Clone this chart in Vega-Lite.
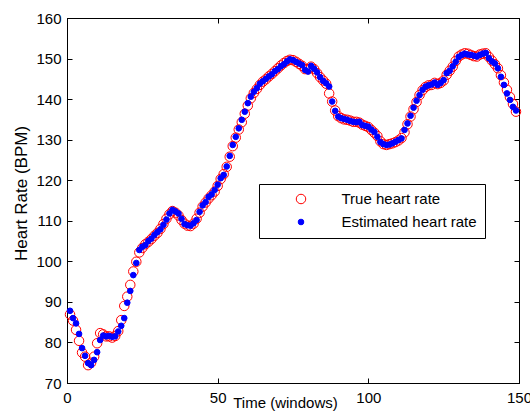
{
"$schema": "https://vega.github.io/schema/vega-lite/v6.json",
"width": 452, "height": 365,
"autosize": {"type": "none"},
"padding": {"left": 67, "top": 18, "right": 11, "bottom": 28},
"background": "white",
"config": {"view": {"stroke": "black", "strokeWidth": 1}, "font": "Liberation Sans",
  "axis": {"grid": false, "domainColor": "black", "tickColor": "black", "labelColor": "black", "titleColor": "black", "labelFont": "Liberation Sans", "titleFont": "Liberation Sans", "labelFontSize": 15, "titleFontWeight": "normal", "tickSize": -5, "labelFlush": false, "labelOverlap": false}},
"data": {"values": [
{"t":1,"T":86.9,"E":87.8},{"t":2,"T":85.4,"E":86.0},{"t":3,"T":83.1,"E":84.7},{"t":4,"T":80.4,"E":82.1},{"t":5,"T":77.5,"E":78.6},
{"t":6,"T":76.5,"E":76.7},{"t":7,"T":74.4,"E":74.9},{"t":8,"T":75.0,"E":74.4},{"t":9,"T":76.5,"E":75.7},{"t":10,"T":79.8,"E":77.6},
{"t":11,"T":82.3,"E":80.6},{"t":12,"T":82.0,"E":81.7},{"t":13,"T":81.5,"E":81.5},{"t":14,"T":81.5,"E":81.6},{"t":15,"T":81.2,"E":81.4},
{"t":16,"T":81.6,"E":81.5},{"t":17,"T":82.8,"E":82.7},{"t":18,"T":85.5,"E":84.1},{"t":19,"T":89.0,"E":86.0},{"t":20,"T":91.3,"E":89.8},
{"t":21,"T":94.2,"E":92.7},{"t":22,"T":97.5,"E":96.6},{"t":23,"T":99.9,"E":99.6},{"t":24,"T":102.2,"E":102.8},{"t":25,"T":103.3,"E":103.6},
{"t":26,"T":104.2,"E":104.0},{"t":27,"T":104.8,"E":105.0},{"t":28,"T":105.5,"E":105.6},{"t":29,"T":106.3,"E":106.5},{"t":30,"T":107.0,"E":107.2},
{"t":31,"T":108.0,"E":107.9},{"t":32,"T":109.2,"E":109.0},{"t":33,"T":110.5,"E":110.3},{"t":34,"T":111.6,"E":111.8},{"t":35,"T":112.4,"E":112.7},
{"t":36,"T":112.0,"E":112.3},{"t":37,"T":111.3,"E":111.8},{"t":38,"T":110.2,"E":110.5},{"t":39,"T":109.3,"E":109.2},{"t":40,"T":108.8,"E":108.9},
{"t":41,"T":108.7,"E":108.8},{"t":42,"T":109.3,"E":109.4},{"t":43,"T":110.5,"E":110.2},{"t":44,"T":112.0,"E":112.2},{"t":45,"T":113.5,"E":113.8},
{"t":46,"T":114.5,"E":114.6},{"t":47,"T":115.5,"E":115.9},{"t":48,"T":116.3,"E":116.5},{"t":49,"T":117.2,"E":117.6},{"t":50,"T":118.6,"E":118.9},
{"t":51,"T":120.3,"E":120.5},{"t":52,"T":121.5,"E":121.3},{"t":53,"T":123.3,"E":123.4},{"t":54,"T":125.8,"E":126.0},{"t":55,"T":128.4,"E":128.7},
{"t":56,"T":130.5,"E":130.7},{"t":57,"T":132.5,"E":132.8},{"t":58,"T":134.3,"E":134.9},{"t":59,"T":136.4,"E":136.9},{"t":60,"T":138.4,"E":139.0},
{"t":61,"T":140.2,"E":140.6},{"t":62,"T":141.5,"E":141.8},{"t":63,"T":142.5,"E":142.7},{"t":64,"T":143.5,"E":143.8},{"t":65,"T":144.3,"E":144.4},
{"t":66,"T":144.9,"E":145.0},{"t":67,"T":145.6,"E":145.6},{"t":68,"T":146.2,"E":146.1},{"t":69,"T":146.9,"E":146.9},{"t":70,"T":147.6,"E":147.4},
{"t":71,"T":148.3,"E":148.1},{"t":72,"T":148.9,"E":148.6},{"t":73,"T":149.4,"E":149.3},{"t":74,"T":149.7,"E":149.8},{"t":75,"T":149.6,"E":149.6},
{"t":76,"T":149.2,"E":149.2},{"t":77,"T":148.7,"E":148.8},{"t":78,"T":148.2,"E":148.4},{"t":79,"T":147.4,"E":147.2},{"t":80,"T":147.4,"E":146.8},
{"t":81,"T":148.0,"E":148.2},{"t":82,"T":147.4,"E":147.5},{"t":83,"T":146.4,"E":146.6},{"t":84,"T":145.4,"E":145.4},{"t":85,"T":144.6,"E":144.5},
{"t":86,"T":143.8,"E":143.9},{"t":87,"T":141.4,"E":143.1},{"t":88,"T":139.4,"E":139.4},{"t":89,"T":137.2,"E":137.1},{"t":90,"T":135.8,"E":135.7},
{"t":91,"T":135.3,"E":135.3},{"t":92,"T":135.0,"E":135.1},{"t":93,"T":134.9,"E":134.9},{"t":94,"T":134.7,"E":134.6},{"t":95,"T":134.4,"E":134.4},
{"t":96,"T":134.4,"E":134.3},{"t":97,"T":134.2,"E":134.4},{"t":98,"T":133.7,"E":133.6},{"t":99,"T":133.4,"E":133.4},{"t":100,"T":133.1,"E":133.2},
{"t":101,"T":132.4,"E":132.5},{"t":102,"T":131.7,"E":131.9},{"t":103,"T":130.9,"E":130.7},{"t":104,"T":129.6,"E":129.4},{"t":105,"T":128.9,"E":128.9},
{"t":106,"T":128.7,"E":128.7},{"t":107,"T":128.9,"E":128.8},{"t":108,"T":129.1,"E":129.1},{"t":109,"T":129.4,"E":129.5},{"t":110,"T":129.8,"E":129.9},
{"t":111,"T":130.4,"E":130.3},{"t":112,"T":131.8,"E":132.4},{"t":113,"T":133.8,"E":134.0},{"t":114,"T":135.7,"E":135.9},{"t":115,"T":137.5,"E":137.9},
{"t":116,"T":139.3,"E":139.6},{"t":117,"T":141.0,"E":141.0},{"t":118,"T":142.2,"E":142.3},{"t":119,"T":143.0,"E":143.1},{"t":120,"T":143.4,"E":143.4},
{"t":121,"T":143.5,"E":143.6},{"t":122,"T":144.0,"E":144.1},{"t":123,"T":143.7,"E":143.5},{"t":124,"T":144.0,"E":144.0},{"t":125,"T":144.6,"E":144.7},
{"t":126,"T":146.0,"E":146.4},{"t":127,"T":147.0,"E":147.0},{"t":128,"T":148.0,"E":148.1},{"t":129,"T":149.4,"E":149.2},{"t":130,"T":150.5,"E":150.4},
{"t":131,"T":151.0,"E":150.9},{"t":132,"T":151.3,"E":151.2},{"t":133,"T":151.2,"E":151.0},{"t":134,"T":150.9,"E":150.9},{"t":135,"T":150.6,"E":150.7},
{"t":136,"T":150.5,"E":150.5},{"t":137,"T":151.0,"E":150.9},{"t":138,"T":151.2,"E":151.2},{"t":139,"T":151.3,"E":151.4},{"t":140,"T":150.4,"E":150.1},
{"t":141,"T":149.5,"E":149.3},{"t":142,"T":148.6,"E":148.8},{"t":143,"T":147.6,"E":147.6},{"t":144,"T":145.9,"E":145.5},{"t":145,"T":144.1,"E":143.5},
{"t":146,"T":142.3,"E":141.4},{"t":147,"T":140.5,"E":139.8},{"t":148,"T":138.8,"E":138.1},{"t":149,"T":136.9,"E":137.2}
]},
"transform": [{"fold": ["T", "E"], "as": ["series", "bpm"]}],
"layer": [
  {"mark": {"type": "point", "shape": "circle", "filled": true, "opacity": 1, "strokeWidth": 1},
   "encoding": {
     "x": {"field": "t", "type": "quantitative", "scale": {"domain": [0, 150], "nice": false, "zero": false},
           "axis": {"orient": "bottom", "values": [0, 50, 100, 150], "labelPadding": 12, "title": "Time (windows)", "titleFontSize": 15, "titleX": 218, "titleY": 12, "titleBaseline": "top", "titleAlign": "center", "titleAnchor": null}},
     "y": {"field": "bpm", "type": "quantitative", "scale": {"domain": [70, 160], "nice": false, "zero": false},
           "axis": {"orient": "left", "values": [70, 80, 90, 100, 110, 120, 130, 140, 150, 160], "labelPadding": 11, "title": "Heart Rate (BPM)", "titleFontSize": 17, "titleAngle": -90, "titleX": -46, "titleY": 175, "titleAlign": "center", "titleBaseline": "middle"}},
     "stroke": {"field": "series", "type": "nominal", "scale": {"domain": ["T", "E"], "range": ["#ff0000", "#0000ff"]},
           "legend": {"title": null, "orient": "none", "legendX": 192, "legendY": 166, "strokeColor": "black", "fillColor": "white", "padding": 7.5, "rowPadding": 7, "symbolOffset": 27, "labelOffset": 33, "labelFontSize": 15, "labelFont": "Liberation Sans", "labelColor": "black", "labelExpr": "datum.label == 'T' ? 'True heart rate' : 'Estimated heart rate'", "symbolStrokeWidth": 1, "symbolOpacity": 1}},
     "fill": {"field": "series", "type": "nominal", "scale": {"domain": ["T", "E"], "range": ["transparent", "#0000ff"]}},
     "size": {"field": "series", "type": "nominal", "scale": {"domain": ["T", "E"], "range": [90, 32]}},
     "order": {"field": "series", "sort": "descending"}
   }},
  {"mark": {"type": "point", "opacity": 0},
   "encoding": {
     "x": {"field": "t", "type": "quantitative", "scale": {"domain": [0, 150], "nice": false, "zero": false},
           "axis": {"orient": "top", "values": [0, 50, 100, 150], "labels": false, "title": null}},
     "y": {"field": "bpm", "type": "quantitative", "scale": {"domain": [70, 160], "nice": false, "zero": false},
           "axis": {"orient": "right", "values": [70, 80, 90, 100, 110, 120, 130, 140, 150, 160], "labels": false, "title": null}}
   }}
],
"resolve": {"scale": {"x": "independent", "y": "independent"}}
}
